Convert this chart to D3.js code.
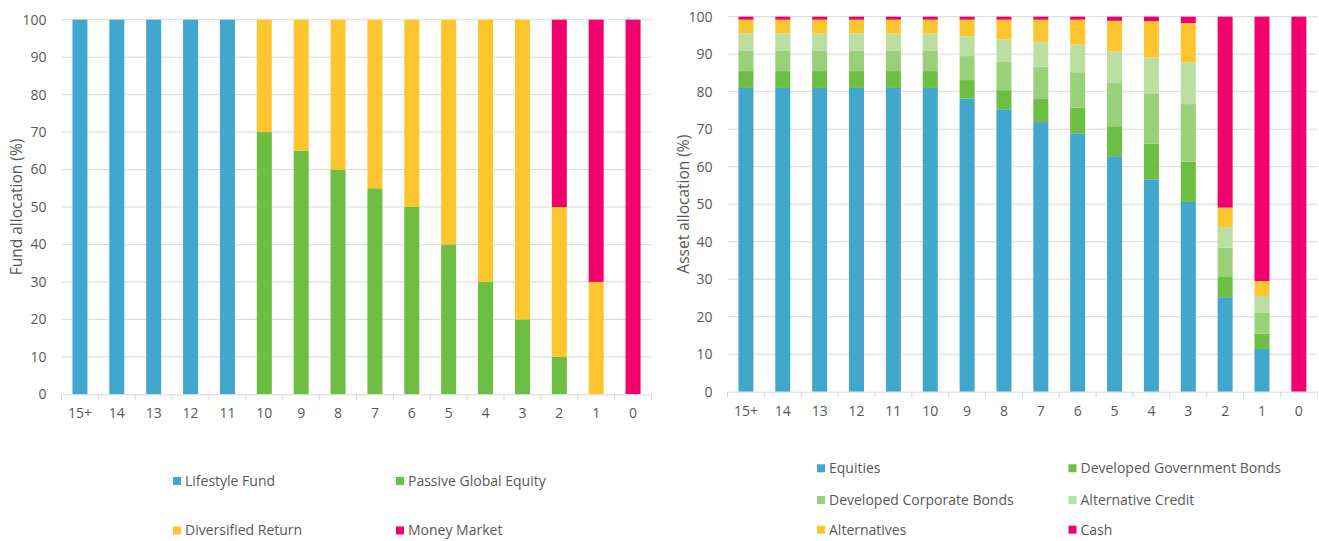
<!DOCTYPE html>
<html>
<head>
<meta charset="utf-8">
<script src="https://cdn.jsdelivr.net/npm/d3@7"></script>
<style>
  body { margin: 0; background: #fff; }
  svg text { font-family: "Open Sans", "Noto Sans", sans-serif; fill: #595959; }
</style>
</head>
<body>
<svg width="1319" height="541"></svg>
<script>
// ages to retirement (x categories), shared by both charts
const AGES = ['15+', '14', '13', '12', '11', '10', '9', '8', '7', '6', '5', '4', '3', '2', '1', '0'];
const Y_TICKS = [0, 10, 20, 30, 40, 50, 60, 70, 80, 90, 100];

// left chart - fund allocation
const FUND_KEYS = ['Lifestyle Fund', 'Passive Global Equity', 'Diversified Return', 'Money Market'];
const lifestyleFund = [100, 100, 100, 100, 100, 0, 0, 0, 0, 0, 0, 0, 0, 0, 0, 0];
const passiveGlobalEquity = [0, 0, 0, 0, 0, 70, 65, 60, 55, 50, 40, 30, 20, 10, 0, 0];
const diversifiedReturn = [0, 0, 0, 0, 0, 30, 35, 40, 45, 50, 60, 70, 80, 40, 30, 0];
const moneyMarket = [0, 0, 0, 0, 0, 0, 0, 0, 0, 0, 0, 0, 0, 50, 70, 100];

// right chart - asset allocation
const ASSET_KEYS = ['Equities', 'Developed Government Bonds', 'Developed Corporate Bonds', 'Alternative Credit', 'Alternatives', 'Cash'];
const equities = [81, 81, 81, 81, 81, 81, 78.2, 75.3, 71.9, 68.9, 62.8, 56.6, 50.6, 25.2, 11.4, 0];
const devGovBonds = [4.5, 4.5, 4.5, 4.5, 4.5, 4.5, 4.9, 5.1, 6.3, 6.8, 8.0, 9.5, 10.7, 5.4, 4.1, 0];
const devCorpBonds = [5.5, 5.5, 5.5, 5.5, 5.5, 5.5, 6.4, 7.7, 8.5, 9.5, 11.5, 13.5, 15.4, 7.8, 5.5, 0];
const altCredit = [4.5, 4.5, 4.5, 4.5, 4.5, 4.5, 5.3, 5.9, 6.6, 7.4, 8.4, 9.6, 11.1, 5.5, 4.5, 0];
const alternatives = [3.7, 3.7, 3.7, 3.7, 3.7, 3.7, 4.4, 5.2, 5.9, 6.6, 8.2, 9.6, 10.5, 5.2, 4.0, 0];
const cash = [0.8, 0.8, 0.8, 0.8, 0.8, 0.8, 0.8, 0.8, 0.8, 0.8, 1.1, 1.2, 1.7, 50.9, 70.5, 100];

const svg = d3.select('svg');

function drawChart(cfg) {
  const rows = AGES.map((age, i) => {
    const r = { age };
    cfg.keys.forEach((k, j) => r[k] = cfg.series[j][i]);
    return r;
  });

  const x = d3.scaleBand().domain(AGES).range([cfg.left, cfg.right])
    .paddingInner(0.593).paddingOuter(0.2965);
  const y = d3.scaleLinear().domain([0, 100]).range([cfg.bottom, cfg.top]);
  const g = svg.append('g');

  // gridlines
  g.selectAll('.grid').data(Y_TICKS.slice(1)).enter().append('line')
    .attr('x1', cfg.left).attr('x2', cfg.right)
    .attr('y1', d => y(d)).attr('y2', d => y(d))
    .attr('stroke', '#d9d9d9').attr('stroke-width', 1);

  // y labels
  g.selectAll('.ylab').data(Y_TICKS).enter().append('text')
    .attr('x', cfg.left - 15).attr('y', d => y(d)).attr('dy', '0.35em')
    .attr('text-anchor', 'end').style('font-size', '14px').text(d => d);

  g.append('text')
    .attr('transform', `translate(${cfg.titleX},${(cfg.top + cfg.bottom) / 2}) rotate(-90)`)
    .attr('text-anchor', 'middle').attr('dy', '0.35em').style('font-size', '15.5px')
    .text(cfg.title);

  // stacked bars
  const stack = d3.stack().keys(cfg.keys)(rows);
  g.selectAll('.layer').data(stack).enter().append('g')
    .attr('fill', (d, i) => cfg.colors[i])
    .selectAll('rect').data(d => d).enter().append('rect')
    .attr('x', d => x(d.data.age))
    .attr('width', x.bandwidth())
    .attr('y', d => y(d[1]))
    .attr('height', d => y(d[0]) - y(d[1]));

  // x axis line + ticks at band edges
  g.append('line').attr('x1', cfg.left).attr('x2', cfg.right)
    .attr('y1', cfg.bottom + 0.5).attr('y2', cfg.bottom + 0.5)
    .attr('stroke', '#d9d9d9');
  const edges = AGES.map(a => x(a) - x.step() * x.paddingInner() / 2).concat([cfg.right]);
  g.selectAll('.tick').data(edges).enter().append('line')
    .attr('x1', d => d).attr('x2', d => d)
    .attr('y1', cfg.bottom).attr('y2', cfg.bottom + 6)
    .attr('stroke', '#d9d9d9');
  g.selectAll('.xlab').data(AGES).enter().append('text')
    .attr('x', d => x(d) + x.bandwidth() / 2).attr('y', cfg.bottom + 19)
    .attr('dy', '0.35em').attr('text-anchor', 'middle').style('font-size', '14px')
    .text(d => d);

  // legend
  const lg = g.selectAll('.legend').data(cfg.keys).enter().append('g')
    .attr('transform', (d, i) => `translate(${cfg.legendX[i % 2]},${cfg.legendY[Math.floor(i / 2)]})`);
  lg.append('rect').attr('x', 0).attr('y', -4).attr('width', 8).attr('height', 8)
    .attr('fill', (d, i) => cfg.colors[i]);
  lg.append('text').attr('x', 12).attr('dy', '0.35em').style('font-size', '14px').text(d => d);
}

drawChart({
  keys: FUND_KEYS,
  series: [lifestyleFund, passiveGlobalEquity, diversifiedReturn, moneyMarket],
  colors: ['#41a7cc', '#6dbf43', '#fec62e', '#f2006d'],
  left: 61.5, right: 651.5, top: 19.7, bottom: 394.3,
  title: 'Fund allocation (%)', titleX: 17,
  legendX: [173, 396], legendY: [481, 530.5]
});

drawChart({
  keys: ASSET_KEYS,
  series: [equities, devGovBonds, devCorpBonds, altCredit, alternatives, cash],
  colors: ['#41a7cc', '#6dbf43', '#99d178', '#badfa1', '#fec62e', '#f2006d'],
  left: 727.5, right: 1317.3, top: 16.7, bottom: 391.7,
  title: 'Asset allocation (%)', titleX: 684,
  legendX: [817, 1068.5], legendY: [468.3, 500, 529.7]
});
</script>
</body>
</html>
